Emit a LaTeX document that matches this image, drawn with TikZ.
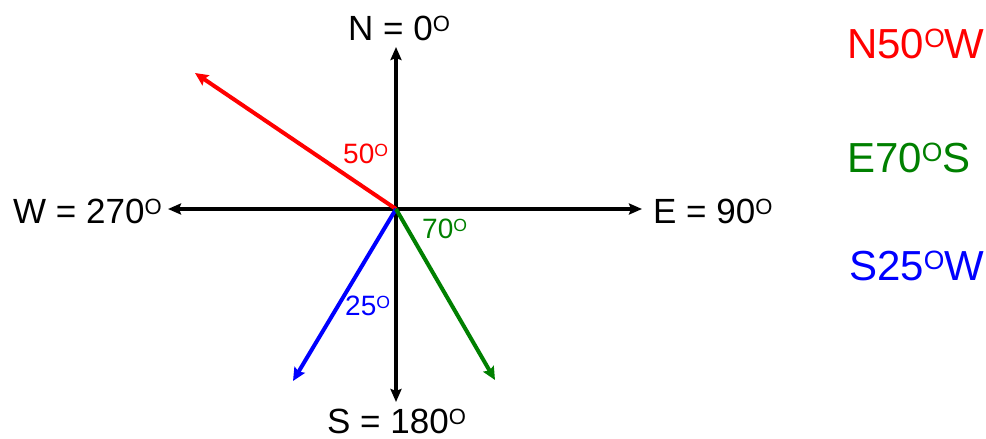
\documentclass[tikz,border=0pt]{standalone}
\usepackage{fontspec}
\setmainfont{Liberation Sans}
\usetikzlibrary{arrows.meta}
\definecolor{dgreen}{RGB}{0,128,0}
\newcommand{\dg}{\raisebox{0.25em}{\scalebox{0.63}{O}}}
\tikzset{
  axis/.style={line width=3.6pt,-{Stealth[length=13pt,width=11pt,inset=2pt]}},
  vec/.style={line width=4pt,-{Stealth[length=13pt,width=12pt,inset=2pt]}},
  big/.style={inner sep=0,font=\fontsize{35}{35}\selectfont,anchor=base west},
  ang/.style={inner sep=0,font=\fontsize{28}{28}\selectfont,anchor=base west},
  side/.style={inner sep=0,font=\fontsize{42}{42}\selectfont,anchor=base west}
}
\begin{document}
\begin{tikzpicture}[x=1pt,y=-1pt]
\useasboundingbox (0,0) rectangle (986,439);
\coordinate (O) at (396,209);
\coordinate (Nt) at (396,47);
\coordinate (St) at (396,402);
\coordinate (Wt) at (168,209);
\coordinate (Et) at (642,209);
\coordinate (Rt) at (195,73);
\coordinate (Bt) at (293,381);
\coordinate (Gt) at (495,380);
\draw[axis] (O) -- (Nt);
\draw[axis] (O) -- (St);
\draw[axis] (O) -- (Wt);
\draw[axis] (O) -- (Et);
\draw[vec,red] (O) -- (Rt);
\draw[vec,blue] (O) -- (Bt);
\draw[vec,dgreen] (O) -- (Gt);
\node[big] (nl) at (348,40) {N = 0\dg};
\node[big] (sl) at (327,433) {S = 180\dg};
\node[big] (wl) at (13,223) {W = 270\dg};
\node[big] (el) at (653,223) {E = 90\dg};
\node[ang,red] (a50) at (343,163) {50\dg};
\node[ang,dgreen] (a70) at (422,238) {70\dg};
\node[ang,blue] (a25) at (345,315) {25\dg};
\node[side,red] (r1) at (847,58) {N50\dg W};
\node[side,dgreen] (r2) at (847,172) {E70\dg S};
\node[side,blue] (r3) at (849,280) {S25\dg W};
\end{tikzpicture}
\end{document}
